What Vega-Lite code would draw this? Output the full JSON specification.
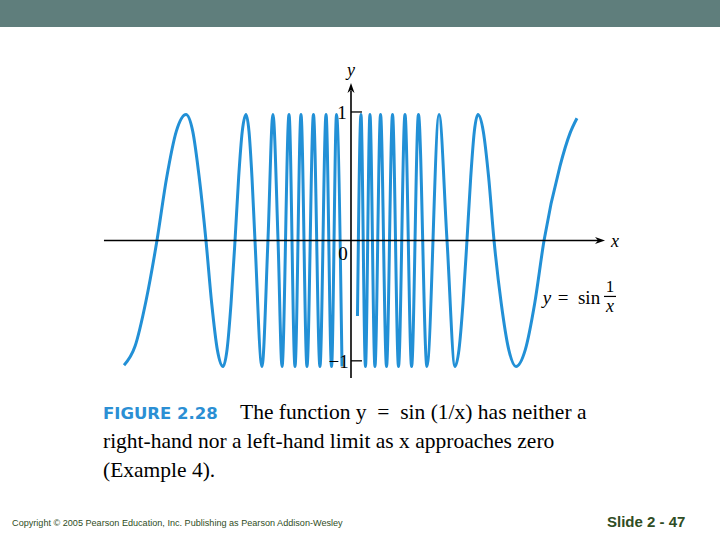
{
  "$schema": "https://vega.github.io/schema/vega-lite/v6.json",
  "width": 720,
  "height": 540,
  "autosize": {"type": "none"},
  "padding": 0,
  "background": "white",
  "config": {"view": {"stroke": null}},
  "datasets": {
    "header": [{"x": -2.8147, "x2": 2.9591, "y": 1.9087, "y2": 1.694}],
    "curve": [
      {"piece": "left", "x": -1.820, "y": -0.99},
      {"piece": "left", "x": -1.732, "y": -0.84},
      {"piece": "left", "x": -1.644, "y": -0.48},
      {"piece": "left", "x": -1.556, "y": 0},
      {"piece": "left", "x": -1.478, "y": 0.5},
      {"piece": "left", "x": -1.401, "y": 0.866},
      {"piece": "left", "x": -1.323, "y": 1},
      {"piece": "left", "x": -1.269, "y": 0.866},
      {"piece": "left", "x": -1.217, "y": 0.5},
      {"piece": "left", "x": -1.163, "y": 0},
      {"piece": "left", "x": -1.117, "y": -0.5},
      {"piece": "left", "x": -1.072, "y": -0.866},
      {"piece": "left", "x": -1.026, "y": -1},
      {"piece": "left", "x": -0.994, "y": -0.866},
      {"piece": "left", "x": -0.962, "y": -0.5},
      {"piece": "left", "x": -0.930, "y": 0},
      {"piece": "left", "x": -0.901, "y": 0.5},
      {"piece": "left", "x": -0.872, "y": 0.866},
      {"piece": "left", "x": -0.842, "y": 1},
      {"piece": "left", "x": -0.818, "y": 0.866},
      {"piece": "left", "x": -0.794, "y": 0.5},
      {"piece": "left", "x": -0.770, "y": 0},
      {"piece": "left", "x": -0.714, "y": -1},
      {"piece": "left", "x": -0.666, "y": 0},
      {"piece": "left", "x": -0.626, "y": 1},
      {"piece": "left", "x": -0.585, "y": 0},
      {"piece": "left", "x": -0.553, "y": -1},
      {"piece": "left", "x": -0.497, "y": 1},
      {"piece": "left", "x": -0.449, "y": -1},
      {"piece": "left", "x": -0.401, "y": 1},
      {"piece": "left", "x": -0.353, "y": -1},
      {"piece": "left", "x": -0.301, "y": 1},
      {"piece": "left", "x": -0.249, "y": -1},
      {"piece": "left", "x": -0.200, "y": 1},
      {"piece": "left", "x": -0.156, "y": -1},
      {"piece": "left", "x": -0.116, "y": 1},
      {"piece": "left", "x": -0.072, "y": -1},
      {"piece": "right", "x": 0.052, "y": -0.6},
      {"piece": "right", "x": 0.080, "y": 1},
      {"piece": "right", "x": 0.116, "y": -1},
      {"piece": "right", "x": 0.152, "y": 1},
      {"piece": "right", "x": 0.192, "y": -1},
      {"piece": "right", "x": 0.237, "y": 1},
      {"piece": "right", "x": 0.285, "y": -1},
      {"piece": "right", "x": 0.333, "y": 1},
      {"piece": "right", "x": 0.381, "y": -1},
      {"piece": "right", "x": 0.433, "y": 1},
      {"piece": "right", "x": 0.486, "y": -1},
      {"piece": "right", "x": 0.541, "y": 1},
      {"piece": "right", "x": 0.609, "y": -1},
      {"piece": "right", "x": 0.706, "y": 1},
      {"piece": "right", "x": 0.770, "y": 0},
      {"piece": "right", "x": 0.834, "y": -1},
      {"piece": "right", "x": 0.866, "y": -0.866},
      {"piece": "right", "x": 0.898, "y": -0.5},
      {"piece": "right", "x": 0.930, "y": 0},
      {"piece": "right", "x": 0.960, "y": 0.5},
      {"piece": "right", "x": 0.989, "y": 0.866},
      {"piece": "right", "x": 1.018, "y": 1},
      {"piece": "right", "x": 1.061, "y": 0.866},
      {"piece": "right", "x": 1.104, "y": 0.5},
      {"piece": "right", "x": 1.147, "y": 0},
      {"piece": "right", "x": 1.205, "y": -0.5},
      {"piece": "right", "x": 1.265, "y": -0.866},
      {"piece": "right", "x": 1.323, "y": -1},
      {"piece": "right", "x": 1.398, "y": -0.866},
      {"piece": "right", "x": 1.473, "y": -0.5},
      {"piece": "right", "x": 1.548, "y": 0},
      {"piece": "right", "x": 1.676, "y": 0.59},
      {"piece": "right", "x": 1.756, "y": 0.85},
      {"piece": "right", "x": 1.812, "y": 0.97}
    ],
    "axes": [
      {"x": -1.981, "x2": 1.997, "y": 0, "y2": 0},
      {"x": 0, "x2": 0, "y": -1.091, "y2": 1.19}
    ],
    "ticks": [
      {"x": 0, "x2": 0.088, "y": 1.02, "y2": 1.02},
      {"x": 0, "x2": 0.088, "y": -0.955, "y2": -0.955}
    ],
    "arrowX": [{"x": 1.997, "y": 0}],
    "arrowY": [{"x": 0, "y": 1.21}],
    "italic": [
      {"x": 0, "y": 1.345, "t": "y", "s": 18},
      {"x": 2.117, "y": -0.01, "t": "x", "s": 18},
      {"x": 1.572, "y": -0.456, "t": "y", "s": 19},
      {"x": 2.077, "y": -0.528, "t": "x", "s": 18}
    ],
    "upright": [
      {"x": -0.072, "y": 1.01, "t": "1", "s": 19},
      {"x": -0.100, "y": -0.964, "t": "−1", "s": 19},
      {"x": -0.064, "y": -0.107, "t": "0", "s": 19},
      {"x": 1.700, "y": -0.456, "t": "=", "s": 19},
      {"x": 1.909, "y": -0.456, "t": "sin", "s": 19},
      {"x": 2.077, "y": -0.369, "t": "1", "s": 17}
    ],
    "fracbar": [{"x": 2.029, "x2": 2.125, "y": -0.444, "y2": -0.444}],
    "figlabel": [{"x": -1.989, "y": -1.417, "t": "FIGURE 2.28"}],
    "caption": [
      {"x": -0.890, "y": -1.417, "t": "The function y\u00a0\u00a0=\u00a0\u00a0sin (1/x) has neither a"},
      {"x": -1.989, "y": -1.647, "t": "right-hand nor a left-hand limit as x approaches zero"},
      {"x": -1.989, "y": -1.877, "t": "(Example 4)."}
    ],
    "copyright": [{"x": -2.718, "y": -2.266, "t": "Copyright © 2005 Pearson Education, Inc.  Publishing as Pearson Addison-Wesley"}],
    "slide": [{"x": 2.053, "y": -2.274, "t": "Slide 2 - 47"}]
  },
  "layer": [
    {
      "data": {"name": "header"},
      "mark": {"type": "rect", "color": "#5f7e7c"},
      "encoding": {
        "x": {"field": "x", "type": "quantitative", "scale": {"domain": [-2.8147, 2.9591], "nice": false, "zero": false}, "axis": null},
        "x2": {"field": "x2"},
        "y": {"field": "y", "type": "quantitative", "scale": {"domain": [-2.377, 1.9087], "nice": false, "zero": false}, "axis": null},
        "y2": {"field": "y2"}
      }
    },
    {
      "data": {"name": "curve"},
      "mark": {"type": "line", "interpolate": "monotone", "color": "#2290d6", "strokeWidth": 3},
      "encoding": {
        "x": {"field": "x", "type": "quantitative", "scale": {"domain": [-2.8147, 2.9591], "nice": false, "zero": false}, "axis": null},
        "y": {"field": "y", "type": "quantitative", "scale": {"domain": [-2.377, 1.9087], "nice": false, "zero": false}, "axis": null},
        "detail": {"field": "piece"},
        "order": {"field": "x", "type": "quantitative"}
      }
    },
    {
      "data": {"name": "axes"},
      "mark": {"type": "rule", "color": "black", "strokeWidth": 1.6},
      "encoding": {
        "x": {"field": "x", "type": "quantitative", "axis": null},
        "x2": {"field": "x2"},
        "y": {"field": "y", "type": "quantitative", "axis": null},
        "y2": {"field": "y2"}
      }
    },
    {
      "data": {"name": "ticks"},
      "mark": {"type": "rule", "color": "black", "strokeWidth": 1.3},
      "encoding": {
        "x": {"field": "x", "type": "quantitative", "axis": null},
        "x2": {"field": "x2"},
        "y": {"field": "y", "type": "quantitative", "axis": null},
        "y2": {"field": "y2"}
      }
    },
    {
      "data": {"name": "fracbar"},
      "mark": {"type": "rule", "color": "black", "strokeWidth": 1.2},
      "encoding": {
        "x": {"field": "x", "type": "quantitative", "axis": null},
        "x2": {"field": "x2"},
        "y": {"field": "y", "type": "quantitative", "axis": null},
        "y2": {"field": "y2"}
      }
    },
    {
      "data": {"name": "arrowX"},
      "mark": {"type": "point", "filled": true, "color": "black", "opacity": 1, "size": 100, "shape": "M 1 0 L -1 -0.7 L -0.4 0 L -1 0.7 Z"},
      "encoding": {
        "x": {"field": "x", "type": "quantitative", "axis": null},
        "y": {"field": "y", "type": "quantitative", "axis": null}
      }
    },
    {
      "data": {"name": "arrowY"},
      "mark": {"type": "point", "filled": true, "color": "black", "opacity": 1, "size": 100, "shape": "M 0 -1 L -0.7 1 L 0 0.4 L 0.7 1 Z"},
      "encoding": {
        "x": {"field": "x", "type": "quantitative", "axis": null},
        "y": {"field": "y", "type": "quantitative", "axis": null}
      }
    },
    {
      "data": {"name": "italic"},
      "mark": {"type": "text", "font": "Liberation Serif", "fontStyle": "italic", "align": "center", "baseline": "middle", "color": "black"},
      "encoding": {
        "x": {"field": "x", "type": "quantitative", "axis": null},
        "y": {"field": "y", "type": "quantitative", "axis": null},
        "text": {"field": "t"},
        "size": {"field": "s", "type": "quantitative", "scale": null}
      }
    },
    {
      "data": {"name": "upright"},
      "mark": {"type": "text", "font": "Liberation Serif", "align": "center", "baseline": "middle", "color": "black"},
      "encoding": {
        "x": {"field": "x", "type": "quantitative", "axis": null},
        "y": {"field": "y", "type": "quantitative", "axis": null},
        "text": {"field": "t"},
        "size": {"field": "s", "type": "quantitative", "scale": null}
      }
    },
    {
      "data": {"name": "figlabel"},
      "mark": {"type": "text", "font": "DejaVu Sans", "fontWeight": "bold", "fontSize": 16.5, "align": "left", "baseline": "alphabetic", "color": "#2b8fd4"},
      "encoding": {
        "x": {"field": "x", "type": "quantitative", "axis": null},
        "y": {"field": "y", "type": "quantitative", "axis": null},
        "text": {"field": "t"}
      }
    },
    {
      "data": {"name": "caption"},
      "mark": {"type": "text", "font": "Liberation Serif", "fontSize": 21.5, "align": "left", "baseline": "alphabetic", "color": "black"},
      "encoding": {
        "x": {"field": "x", "type": "quantitative", "axis": null},
        "y": {"field": "y", "type": "quantitative", "axis": null},
        "text": {"field": "t"}
      }
    },
    {
      "data": {"name": "copyright"},
      "mark": {"type": "text", "font": "Liberation Sans", "fontSize": 9.1, "align": "left", "baseline": "alphabetic", "color": "#2f4d24"},
      "encoding": {
        "x": {"field": "x", "type": "quantitative", "axis": null},
        "y": {"field": "y", "type": "quantitative", "axis": null},
        "text": {"field": "t"}
      }
    },
    {
      "data": {"name": "slide"},
      "mark": {"type": "text", "font": "Liberation Sans", "fontWeight": "bold", "fontSize": 15, "align": "left", "baseline": "alphabetic", "color": "#2f4d24"},
      "encoding": {
        "x": {"field": "x", "type": "quantitative", "axis": null},
        "y": {"field": "y", "type": "quantitative", "axis": null},
        "text": {"field": "t"}
      }
    }
  ]
}
